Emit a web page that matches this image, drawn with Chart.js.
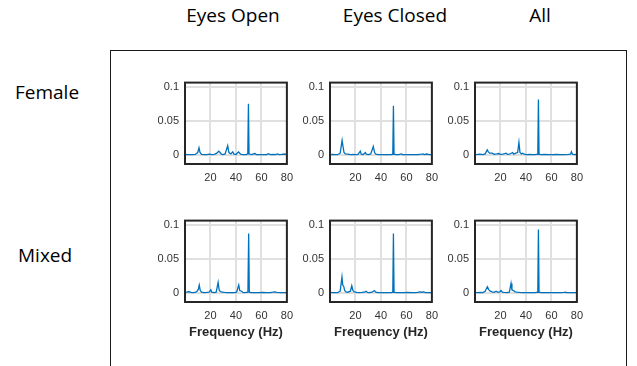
<!DOCTYPE html>
<html>
<head>
  <title>Spectra by group</title>
  <script src="https://cdn.jsdelivr.net/npm/chart.js"></script>
  <style>
    body {
      margin: 0;
      width: 637px;
      height: 366px;
      background: #fff;
      position: relative;
      overflow: hidden;
    }
    .frame {
      position: absolute;
      left: 110px;
      top: 50px;
      width: 515px;
      height: 400px;
      border: 1.5px solid #1a1a1a;
    }
    .lbl {
      position: absolute;
      font-family: "Open Sans", Lato, sans-serif;
      font-size: 19px;
      color: #000;
      white-space: nowrap;
      line-height: 1;
    }
    .col { transform: translateX(-50%); }
    .panel { position: absolute; }
  </style>
</head>
<body>

  <div class="frame"></div>

  <!-- column and row headings -->
  <div class="lbl col" style="left:233px; top:6px;">Eyes Open</div>
  <div class="lbl col" style="left:395px; top:6px;">Eyes Closed</div>
  <div class="lbl col" style="left:540px; top:6px;">All</div>
  <div class="lbl" style="left:15px; top:83px;">Female</div>
  <div class="lbl" style="left:18px; top:246px;">Mixed</div>

  <div class="panel" style="left:140px; top:70px; width:160px; height:120px;"><canvas id="p1"></canvas></div>
  <div class="panel" style="left:285px; top:70px; width:160px; height:120px;"><canvas id="p2"></canvas></div>
  <div class="panel" style="left:430px; top:70px; width:160px; height:120px;"><canvas id="p3"></canvas></div>
  <div class="panel" style="left:140px; top:208px; width:160px; height:140px;"><canvas id="p4"></canvas></div>
  <div class="panel" style="left:285px; top:208px; width:160px; height:140px;"><canvas id="p5"></canvas></div>
  <div class="panel" style="left:430px; top:208px; width:160px; height:140px;"><canvas id="p6"></canvas></div>

  <script>
    // axis ticks
    const xTicks = [20, 40, 60, 80];
    const yTicks = [0, 0.05, 0.1];

    // spectra: [frequency Hz, power]
    const femaleOpen = [[0,0.0012],[2,0.0008],[4,0.001],[6,0.0009],[8,0.0012],[10,0.004],[11,0.011],[11.8,0.004],[13,0.0012],[15,0.001],[17,0.0009],[19,0.0015],[21,0.001],[23,0.0012],[25,0.003],[26.5,0.006],[27.5,0.004],[28.5,0.0015],[30,0.001],[31.5,0.002],[33.5,0.014],[34.5,0.004],[36,0.002],[37.5,0.005],[38.5,0.0015],[40,0.001],[42,0.005],[43,0.003],[44,0.0012],[46,0.001],[48,0.0009],[49.3,0.002],[49.8,0.076],[50.3,0.002],[52,0.001],[55,0.0025],[56,0.001],[58,0.0008],[61,0.001],[64,0.0008],[65.5,0.0022],[67,0.001],[69,0.0012],[71,0.001],[72.5,0.002],[74,0.001],[76,0.0012],[78,0.0018],[80,0.001]];
    const femaleClosed = [[0,0.001],[2,0.0012],[4,0.0008],[6,0.001],[8,0.003],[9.5,0.022],[10.3,0.012],[11,0.004],[12,0.002],[14,0.0015],[16,0.001],[18,0.0012],[20,0.001],[22,0.0012],[23.8,0.006],[24.5,0.0015],[26,0.001],[27.8,0.004],[28.5,0.0015],[30,0.001],[32,0.002],[34,0.013],[35,0.004],[36,0.0015],[38,0.001],[40,0.0009],[42,0.001],[44,0.0008],[46,0.001],[48,0.0009],[49.3,0.0015],[49.8,0.073],[50.3,0.0015],[52,0.0008],[54,0.001],[56,0.002],[57,0.0009],[60,0.001],[63,0.0008],[66,0.001],[69,0.0009],[72,0.0015],[73,0.002],[74,0.001],[76,0.0018],[78,0.001],[80,0.0008]];
    const femaleAll = [[0,0.001],[2,0.0012],[4,0.0015],[6,0.001],[8,0.002],[9.6,0.008],[10.5,0.005],[11.5,0.003],[13.5,0.003],[15,0.0015],[17,0.002],[18.5,0.0025],[20,0.0012],[22,0.0015],[24.5,0.003],[25.5,0.0012],[27,0.0015],[29.5,0.004],[30.5,0.0015],[32,0.003],[33.5,0.004],[34.5,0.019],[35.3,0.004],[36.5,0.002],[37.5,0.003],[39,0.0012],[41,0.001],[43,0.0012],[45,0.001],[47,0.0009],[49.3,0.0015],[49.8,0.082],[50.3,0.0015],[52,0.001],[55,0.0012],[58,0.0009],[61,0.001],[64,0.0012],[67,0.0009],[70,0.001],[73,0.0012],[75,0.0015],[75.7,0.005],[76.5,0.0015],[78,0.001],[80,0.0012]];
    const mixedOpen = [[0,0.0012],[1.5,0.0015],[3,0.0025],[4.5,0.0012],[6,0.001],[8,0.0012],[9.5,0.003],[10.5,0.006],[11.2,0.012],[12,0.004],[13,0.0015],[15,0.001],[17,0.0012],[19,0.0015],[20.3,0.005],[21,0.0015],[23,0.001],[24.5,0.0015],[26,0.016],[26.8,0.005],[27.5,0.003],[29,0.0015],[31,0.0012],[33,0.001],[35,0.0008],[37,0.001],[39,0.0009],[40.5,0.0015],[42.2,0.012],[43,0.004],[44.5,0.003],[45.5,0.0012],[47,0.001],[49.4,0.0015],[50,0.088],[50.5,0.0015],[52,0.0009],[55,0.001],[58,0.0008],[61,0.0012],[64,0.0009],[67,0.001],[69,0.0015],[70.5,0.002],[72,0.0012],[75,0.001],[78,0.0009],[80,0.001]];
    const mixedClosed = [[0,0.0012],[2,0.001],[4,0.0008],[6,0.001],[8,0.003],[9.4,0.024],[10,0.012],[10.8,0.01],[11.5,0.004],[12.5,0.002],[14,0.0015],[16,0.003],[17.1,0.011],[18,0.004],[19,0.002],[21,0.0012],[23,0.001],[25,0.0012],[27,0.0015],[28.3,0.003],[29.5,0.0012],[31,0.001],[33,0.0015],[34.8,0.004],[36,0.0015],[38,0.001],[40,0.0008],[42,0.001],[44,0.0008],[46,0.001],[48,0.0008],[49.3,0.0015],[49.8,0.088],[50.3,0.0015],[52,0.0008],[55,0.001],[58,0.0008],[61,0.0012],[64,0.001],[67,0.0008],[69,0.0012],[70.5,0.002],[72,0.0015],[73.5,0.002],[75,0.001],[78,0.0008],[80,0.001]];
    const mixedAll = [[0,0.0012],[2,0.001],[4,0.0012],[6,0.001],[8,0.003],[9.7,0.0095],[10.9,0.005],[12,0.003],[13.5,0.002],[15,0.0015],[16.6,0.003],[18,0.0015],[19.5,0.002],[20.4,0.004],[21.5,0.0015],[23,0.0012],[25,0.001],[27,0.0015],[28.3,0.0145],[29,0.005],[30.3,0.004],[31.5,0.002],[33,0.0015],[35,0.0012],[37,0.001],[39,0.0009],[41,0.001],[43,0.0009],[45,0.001],[47,0.0008],[49.3,0.0015],[49.8,0.094],[50.3,0.0015],[52,0.0009],[55,0.001],[58,0.0008],[61,0.001],[64,0.0008],[67,0.0009],[70,0.0012],[71,0.0015],[72,0.001],[75,0.0009],[78,0.001],[80,0.0009]];

    const tickFont = { family: '"Liberation Sans", Arial, sans-serif', size: 11 };

    // MATLAB-style closed box around the plot area
    const boxPlugin = {
      id: 'box',
      afterDraw(chart) {
        const a = chart.chartArea;
        const ctx = chart.ctx;
        ctx.save();
        ctx.strokeStyle = '#262626';
        ctx.lineWidth = 2;
        ctx.strokeRect(a.left, a.top, a.right - a.left, a.bottom - a.top);
        ctx.restore();
      }
    };

    function makePanel(id, points, withTitle) {
      const ctx = document.getElementById(id).getContext('2d');
      new Chart(ctx, {
        type: 'line',
        data: {
          datasets: [{
            data: points.map(p => ({ x: p[0], y: p[1] })),
            borderColor: '#0072BD',
            borderWidth: 1.3,
            pointRadius: 0,
            tension: 0
          }]
        },
        options: {
          responsive: true,
          maintainAspectRatio: false,
          animation: false,
          layout: { padding: { top: 10, right: 7, left: 0, bottom: 0 } },
          plugins: { legend: { display: false }, tooltip: { enabled: false } },
          scales: {
            x: {
              type: 'linear',
              min: 0,
              max: 80,
              afterBuildTicks: axis => { axis.ticks = xTicks.map(v => ({ value: v })); },
              afterFit: axis => { axis.height = withTitle ? 46 : 26; },
              grid: { color: '#e0e0e0', lineWidth: 2, drawTicks: false },
              border: { display: false },
              ticks: { font: tickFont, color: '#333', padding: 7, maxRotation: 0 },
              title: {
                display: withTitle,
                text: 'Frequency (Hz)',
                font: { family: '"Liberation Sans", Arial, sans-serif', size: 13, weight: 'bold' },
                color: '#262626',
                padding: { top: 2, bottom: 8 }
              }
            },
            y: {
              min: -0.0129,
              max: 0.107,
              afterBuildTicks: axis => { axis.ticks = yTicks.map(v => ({ value: v })); },
              afterFit: axis => { axis.width = 45; },
              grid: { color: '#e0e0e0', lineWidth: 2, drawTicks: false },
              border: { display: false },
              ticks: { font: tickFont, color: '#333', padding: 6, callback: v => String(v) }
            }
          }
        },
        plugins: [boxPlugin]
      });
    }

    makePanel('p1', femaleOpen, false);
    makePanel('p2', femaleClosed, false);
    makePanel('p3', femaleAll, false);
    makePanel('p4', mixedOpen, true);
    makePanel('p5', mixedClosed, true);
    makePanel('p6', mixedAll, true);
  </script>

</body>
</html>
